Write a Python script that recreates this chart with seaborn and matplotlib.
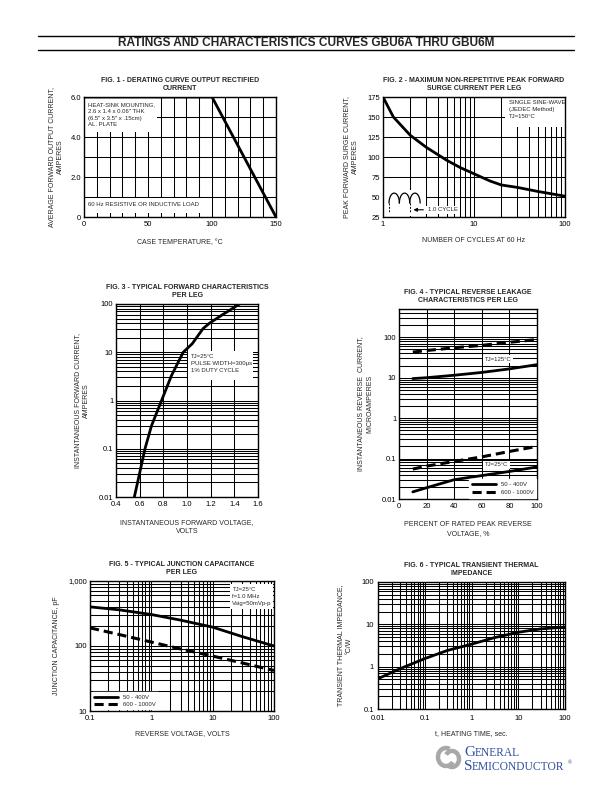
import numpy as np
import pandas as pd
import matplotlib
matplotlib.use("Agg")
import matplotlib.pyplot as plt
import seaborn as sns
from matplotlib.patches import Rectangle, Arc
from matplotlib.lines import Line2D
from matplotlib.ticker import MultipleLocator, LogLocator, NullFormatter, NullLocator

# ---------------- data ----------------
fig1_temp = [0, 100, 150]
fig1_current = [6.0, 6.0, 0.0]

fig2_cycles = [1, 1.3, 2, 3, 4, 5, 7, 10, 15, 20, 30, 50, 100]
fig2_current = [175, 150, 127, 112, 103, 96, 87, 79, 70, 65, 62, 57, 51]

fig3_voltage = [0.555, 0.594, 0.645, 0.70, 0.785, 0.869, 0.968, 1.044, 1.136, 1.19, 1.30, 1.445]
fig3_current = [0.01, 0.027, 0.1, 0.3, 1.0, 3.3, 10, 15, 31, 40, 60, 100]

fig4_percent = [10, 20, 40, 60, 80, 100]
fig4_125_low = [9.5, 10, 11.5, 13.5, 16.5, 21]
fig4_125_high = [43, 47, 55, 63, 75, 88]
fig4_25_low = [0.015, 0.019, 0.030, 0.038, 0.048, 0.062]
fig4_25_high = [0.055, 0.065, 0.085, 0.11, 0.15, 0.20]

fig5_voltage = [0.1, 0.3, 1, 3, 10, 30, 100]
fig5_low = [400, 360, 305, 250, 195, 140, 100]
fig5_high = [190, 150, 115, 90, 70, 55, 42]

fig6_time = [0.01, 0.03, 0.1, 0.3, 1, 3, 10, 30, 100]
fig6_imp = [0.52, 0.9, 1.55, 2.4, 3.4, 4.8, 6.5, 7.8, 8.6]

fig1_xticks = [0, 50, 100, 150]
fig1_xlabels = ["0", "50", "100", "150"]
fig1_yticks = [0, 2, 4, 6]
fig1_ylabels = ["0", "2.0", "4.0", "6.0"]
fig2_xticks = [1, 10, 100]
fig2_xlabels = ["1", "10", "100"]
fig2_yticks = [25, 50, 75, 100, 125, 150, 175]
fig2_ylabels = ["25", "50", "75", "100", "125", "150", "175"]
fig3_xticks = [0.4, 0.6, 0.8, 1.0, 1.2, 1.4, 1.6]
fig3_xlabels = ["0.4", "0.6", "0.8", "1.0", "1.2", "1.4", "1.6"]
fig3_yticks = [0.01, 0.1, 1, 10, 100]
fig3_ylabels = ["0.01", "0.1", "1", "10", "100"]
fig4_xticks = [0, 20, 40, 60, 80, 100]
fig4_xlabels = ["0", "20", "40", "60", "80", "100"]
fig4_yticks = [0.01, 0.1, 1, 10, 100]
fig4_ylabels = ["0.01", "0.1", "1", "10", "100"]
fig5_xticks = [0.1, 1, 10, 100]
fig5_xlabels = ["0.1", "1", "10", "100"]
fig5_yticks = [10, 100, 1000]
fig5_ylabels = ["10", "100", "1,000"]
fig6_xticks = [0.01, 0.1, 1, 10, 100]
fig6_xlabels = ["0.01", "0.1", "1", "10", "100"]
fig6_yticks = [0.1, 1, 10, 100]
fig6_ylabels = ["0.1", "1", "10", "100"]

# ---------------- style ----------------
sns.set_theme(style="white")
plt.rcParams['font.family'] = ['Liberation Sans', 'DejaVu Sans']
plt.rcParams['axes.linewidth'] = 1.0
plt.rcParams['axes.edgecolor'] = 'black'

W, H = 612, 792
fig = plt.figure(figsize=(W / 100, H / 100), dpi=100)
fig.patch.set_facecolor('white')


def axpos(l, r, t, b):
    return [l / W, 1 - b / H, (r - l) / W, (b - t) / H]


TICK_FS = 5.5
LAB_FS = 5.0
TITLE_FS = 5.0
ANN_FS = 4.3
GRID_KW = dict(color='black', lw=0.75)
CURVE_KW = dict(color='black', lw=2.0)
DASH_KW = dict(color='black', lw=2.2, dashes=(3, 1.6))


def style_ax(ax, title, xlabel, ylabel, xpad=4, ypad=4):
    ax.set_title(title, fontsize=TITLE_FS, fontweight='bold', pad=5, linespacing=1.3)
    ax.set_xlabel(xlabel, fontsize=LAB_FS, labelpad=xpad, linespacing=1.4)
    ax.set_ylabel(ylabel, fontsize=LAB_FS, labelpad=ypad, linespacing=1.4)
    ax.tick_params(axis='both', which='both', length=0, labelsize=TICK_FS, pad=2, colors='black')
    ax.tick_params(axis='x', which='both', pad=3)
    ax.grid(which='both', **GRID_KW)
    ax.set_axisbelow(True)
    for s in ax.spines.values():
        s.set_color('black')
        s.set_linewidth(1.0)
    ax.set_facecolor('white')


def white_rect(ax, x0, y0, x1, y1, transform=None):
    tr = ax.transData if transform is None else transform
    r = Rectangle((x0, y0), x1 - x0, y1 - y0, facecolor='white', edgecolor='none',
                  zorder=2, transform=tr)
    ax.add_patch(r)


# ---------------- header ----------------
fig.add_artist(Line2D([38 / W, 574 / W], [1 - 36 / H, 1 - 36 / H], color='black', lw=1.0))
fig.add_artist(Line2D([38 / W, 574 / W], [1 - 50 / H, 1 - 50 / H], color='black', lw=1.0))
fig.text(306 / W, 1 - 43 / H, "RATINGS AND CHARACTERISTICS CURVES GBU6A THRU GBU6M",
         ha='center', va='center', fontsize=8.6, fontweight='bold')

# ---------------- Fig 1 ----------------
ax1 = fig.add_axes(axpos(84, 276, 97, 217))
df1 = pd.DataFrame({"temp": fig1_temp, "current": fig1_current})
sns.lineplot(data=df1, x="temp", y="current", ax=ax1, zorder=4, **CURVE_KW)
ax1.set_xlim(0, 150)
ax1.set_ylim(0, 6)
ax1.set_xticks(fig1_xticks, fig1_xlabels)
ax1.set_yticks(fig1_yticks, fig1_ylabels)
ax1.xaxis.set_minor_locator(MultipleLocator(10))
ax1.yaxis.set_minor_locator(MultipleLocator(1))
style_ax(ax1, "FIG. 1 - DERATING CURVE OUTPUT RECTIFIED\nCURRENT", "CASE TEMPERATURE, °C",
         "AVERAGE FORWARD OUTPUT CURRENT,\nAMPERES", xpad=8, ypad=5)
white_rect(ax1, 0.5, 4.25, 57, 5.97)
ax1.text(3, 5.75, "HEAT-SINK MOUNTING,\n2.6 x 1.4 x 0.06\" THK\n(6.5\" x 3.5\" x .15cm)\nAL. PLATE",
         fontsize=ANN_FS, va='top', ha='left', zorder=3, linespacing=1.45)
white_rect(ax1, 0.5, 0.2, 97, 0.97)
ax1.text(3, 0.6, "60 Hz RESISTIVE OR INDUCTIVE LOAD", fontsize=ANN_FS, va='center', ha='left', zorder=3)

# ---------------- Fig 2 ----------------
ax2 = fig.add_axes(axpos(383, 565, 97, 217))
df2 = pd.DataFrame({"cycles": fig2_cycles, "current": fig2_current})
sns.lineplot(data=df2, x="cycles", y="current", ax=ax2, zorder=4, **CURVE_KW)
ax2.set_xscale('log')
ax2.set_xlim(1, 100)
ax2.set_ylim(25, 175)
ax2.set_xticks(fig2_xticks, fig2_xlabels)
ax2.set_yticks(fig2_yticks, fig2_ylabels)
ax2.xaxis.set_minor_locator(LogLocator(base=10, subs=np.arange(2, 10)))
ax2.xaxis.set_minor_formatter(NullFormatter())
style_ax(ax2, "FIG. 2 - MAXIMUM NON-REPETITIVE PEAK FORWARD\nSURGE CURRENT PER LEG",
         "NUMBER OF CYCLES AT 60 Hz", "PEAK FORWARD SURGE CURRENT,\nAMPERES", xpad=6, ypad=6)
white_rect(ax2, 22, 138, 99, 174.5)
ax2.text(24, 171, "SINGLE SINE-WAVE\n(JEDEC Method)\nTJ=150°C", fontsize=ANN_FS, va='top',
         ha='left', zorder=3, linespacing=1.45)
# cycle icon
white_rect(ax2, 0.004, 0.005, 0.235, 0.225, transform=ax2.transAxes)
t = np.linspace(0, np.pi, 40)
hw = 0.057
for k in range(3):
    x0 = 0.033 + k * hw
    ax2.plot(x0 + hw / 2 * (1 - np.cos(t)), 0.116 + 0.083 * np.sin(t), color='black', lw=0.9,
             transform=ax2.transAxes, zorder=5)
for xf in (0.033, 0.150):
    ax2.plot([xf, xf], [0.116, 0.03], color='black', lw=0.7, ls=(0, (2, 1.5)),
             transform=ax2.transAxes, zorder=5)
ax2.annotate("", xy=(0.152, 0.06), xytext=(0.237, 0.06), xycoords='axes fraction',
             arrowprops=dict(arrowstyle='-|>', color='black', lw=0.8, mutation_scale=5), zorder=5)
ax2.text(0.245, 0.06, "1.0 CYCLE", transform=ax2.transAxes, fontsize=ANN_FS, va='center',
         ha='left', zorder=5, bbox=dict(facecolor='white', edgecolor='none', pad=1))

# ---------------- Fig 3 ----------------
ax3 = fig.add_axes(axpos(116, 258, 304, 497))
df3 = pd.DataFrame({"v": fig3_voltage, "i": fig3_current})
sns.lineplot(data=df3, x="v", y="i", ax=ax3, zorder=4, **CURVE_KW)
ax3.set_yscale('log')
ax3.set_xlim(0.4, 1.6)
ax3.set_ylim(0.01, 100)
ax3.set_xticks(fig3_xticks, fig3_xlabels)
ax3.set_yticks(fig3_yticks, fig3_ylabels)
ax3.xaxis.set_minor_locator(NullLocator())
ax3.yaxis.set_minor_locator(LogLocator(base=10, subs=np.arange(2, 10)))
ax3.yaxis.set_minor_formatter(NullFormatter())
style_ax(ax3, "FIG. 3 - TYPICAL FORWARD CHARACTERISTICS\nPER LEG",
         "INSTANTANEOUS FORWARD VOLTAGE,\nVOLTS", "INSTANTANEOUS FORWARD CURRENT,\nAMPERES",
         xpad=8, ypad=6)
white_rect(ax3, 1.01, 2.6, 1.555, 10.8)
ax3.text(1.035, 9.3, "TJ=25°C\nPULSE WIDTH=300μs\n1% DUTY CYCLE", fontsize=ANN_FS, va='top',
         ha='left', zorder=3, linespacing=1.55)

# ---------------- Fig 4 ----------------
ax4 = fig.add_axes(axpos(399, 537, 309, 499))
df4 = pd.DataFrame({"p": fig4_percent, "a": fig4_125_low, "b": fig4_125_high,
                    "c": fig4_25_low, "d": fig4_25_high})
sns.lineplot(data=df4, x="p", y="a", ax=ax4, zorder=4, label="50 - 400V", **CURVE_KW)
sns.lineplot(data=df4, x="p", y="b", ax=ax4, zorder=4, label="600 - 1000V", **DASH_KW)
sns.lineplot(data=df4, x="p", y="c", ax=ax4, zorder=4, **CURVE_KW)
sns.lineplot(data=df4, x="p", y="d", ax=ax4, zorder=4, **DASH_KW)
ax4.set_yscale('log')
ax4.set_xlim(0, 100)
ax4.set_ylim(0.01, 500)
ax4.set_xticks(fig4_xticks, fig4_xlabels)
ax4.set_yticks(fig4_yticks, fig4_ylabels)
ax4.xaxis.set_minor_locator(NullLocator())
ax4.yaxis.set_minor_locator(LogLocator(base=10, subs=np.arange(2, 10)))
ax4.yaxis.set_minor_formatter(NullFormatter())
style_ax(ax4, "FIG. 4 - TYPICAL REVERSE LEAKAGE\nCHARACTERISTICS PER LEG",
         "PERCENT OF RATED PEAK REVERSE\nVOLTAGE, %", "INSTANTANEOUS REVERSE  CURRENT,\nMICROAMPERES",
         xpad=8, ypad=6)
ax4.text(62, 28.5, "TJ=125°C", fontsize=ANN_FS, va='center', ha='left', zorder=3,
         bbox=dict(facecolor='white', edgecolor='none', pad=1.2))
ax4.text(62, 0.07, "TJ=25°C", fontsize=ANN_FS, va='center', ha='left', zorder=3,
         bbox=dict(facecolor='white', edgecolor='none', pad=1.2))
leg4 = ax4.legend(loc='lower right', fontsize=ANN_FS, frameon=True, fancybox=False,
                  edgecolor='white', framealpha=1, handlelength=4, borderpad=0.5,
                  labelspacing=0.5, borderaxespad=0.1)
leg4.set_zorder(6)

# ---------------- Fig 5 ----------------
ax5 = fig.add_axes(axpos(90, 274, 581, 711))
df5 = pd.DataFrame({"v": fig5_voltage, "low": fig5_low, "high": fig5_high})
sns.lineplot(data=df5, x="v", y="low", ax=ax5, zorder=4, label="50 - 400V", **CURVE_KW)
sns.lineplot(data=df5, x="v", y="high", ax=ax5, zorder=4, label="600 - 1000V", **DASH_KW)
ax5.set_xscale('log')
ax5.set_yscale('log')
ax5.set_xlim(0.1, 100)
ax5.set_ylim(10, 1000)
ax5.set_xticks(fig5_xticks, fig5_xlabels)
ax5.set_yticks(fig5_yticks, fig5_ylabels)
for a in (ax5.xaxis, ax5.yaxis):
    a.set_minor_locator(LogLocator(base=10, subs=np.arange(2, 10)))
    a.set_minor_formatter(NullFormatter())
style_ax(ax5, "FIG. 5 - TYPICAL JUNCTION CAPACITANCE\nPER LEG", "REVERSE VOLTAGE, VOLTS",
         "JUNCTION CAPACITANCE, pF", xpad=6, ypad=6)
white_rect(ax5, 19, 365, 98, 900)
ax5.text(21, 820, "TJ=25°C\nf=1.0 MHz\nVsig=50mVp-p", fontsize=ANN_FS, va='top', ha='left',
         zorder=3, linespacing=1.55)
leg5 = ax5.legend(loc='lower left', fontsize=ANN_FS, frameon=True, fancybox=False,
                  edgecolor='white', framealpha=1, handlelength=4, borderpad=0.4,
                  labelspacing=0.3, borderaxespad=0.3)
leg5.set_zorder(6)

# ---------------- Fig 6 ----------------
ax6 = fig.add_axes(axpos(378, 565, 582, 709))
df6 = pd.DataFrame({"t": fig6_time, "z": fig6_imp})
sns.lineplot(data=df6, x="t", y="z", ax=ax6, zorder=4, **CURVE_KW)
ax6.set_xscale('log')
ax6.set_yscale('log')
ax6.set_xlim(0.01, 100)
ax6.set_ylim(0.1, 100)
ax6.set_xticks(fig6_xticks, fig6_xlabels)
ax6.set_yticks(fig6_yticks, fig6_ylabels)
for a in (ax6.xaxis, ax6.yaxis):
    a.set_minor_locator(LogLocator(base=10, subs=np.arange(2, 10)))
    a.set_minor_formatter(NullFormatter())
style_ax(ax6, "FIG. 6 - TYPICAL TRANSIENT THERMAL\nIMPEDANCE", "t, HEATING TIME, sec.",
         "TRANSIENT THERMAL IMPEDANCE,\n°C/W", xpad=6, ypad=6)
ax6.tick_params(axis='x', which='both', pad=4)
ax6.tick_params(axis='y', which='both', pad=3)

# ---------------- logo ----------------
blue = '#2f4f9f'
grey = '#a8a8a8'
fig.add_artist(Arc((446 / W, 1 - 757 / H), 16 / W, 18 / H, theta1=60, theta2=330,
                   color=grey, lw=3.2, transform=fig.transFigure))
fig.add_artist(Arc((452 / W, 1 - 759 / H), 14 / W, 16 / H, theta1=240, theta2=510,
                   color=grey, lw=3.2, transform=fig.transFigure))
serif = ['Liberation Serif', 'DejaVu Serif']
fig.text(464 / W, 1 - 753 / H, "G", fontsize=11, color=blue, family=serif, va='center', ha='left')
fig.text(475 / W, 1 - 753.5 / H, "ENERAL", fontsize=8.3, color=blue, family=serif, va='center', ha='left')
fig.text(464 / W, 1 - 767 / H, "S", fontsize=11, color=blue, family=serif, va='center', ha='left')
fig.text(472 / W, 1 - 767.5 / H, "EMICONDUCTOR", fontsize=8.3, color=blue, family=serif, va='center', ha='left')
fig.text(568 / W, 1 - 763 / H, "®", fontsize=4, color=blue, family=serif, va='center', ha='left')

fig.savefig("out.png", dpi=100, facecolor='white')
